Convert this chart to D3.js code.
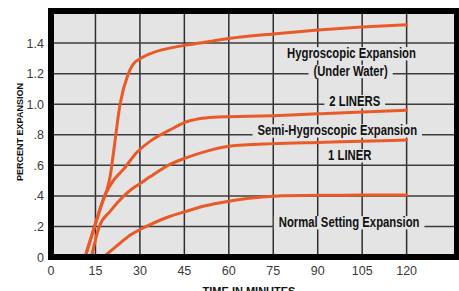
<!DOCTYPE html>
<html>
<head>
    <style>
        body { margin: 0; background: #fff; }
        .tick-label {
            font: 12.5px "Liberation Sans", Arial, sans-serif;
            fill: #3a3a3a;
        }
        .note {
            font-family: "Liberation Sans", Arial, sans-serif;
            font-weight: bold;
            font-size: 13.8px;
            fill: #111;
            text-anchor: middle;
        }
        .axis-title {
            font: bold 9px "Liberation Sans", Arial, sans-serif;
            fill: #111;
            text-anchor: middle;
        }
    </style>
    <script src="https://d3js.org/d3.v7.min.js"></script>
</head>
<body>
    <svg width="459" height="291"></svg>
    <script>
        // values (minutes, percent expansion)
        var xTicks = [0, 15, 30, 45, 60, 75, 90, 105, 120];
        var yTicks = [0, 0.2, 0.4, 0.6, 0.8, 1.0, 1.2, 1.4];
        var yTickLabels = ["0", ".2", ".4", ".6", ".8", "1.0", "1.2", "1.4"];

        var hygroTime = [11.5, 14.7, 18.1, 18.9, 20.3, 21.2, 23.3, 26.1, 28.3, 29.4, 33.4, 45, 50.2, 60, 75, 90, 105, 120];
        var hygroPct  = [0, 0.2, 0.4, 0.44, 0.57, 0.70, 1.0, 1.2, 1.275, 1.29, 1.33, 1.385, 1.40, 1.43, 1.46, 1.485, 1.505, 1.52];

        var twoLinerTime = [11.5, 14.7, 18.1, 21, 24.5, 29, 34, 40, 45, 50, 55, 60, 75, 90, 105, 120];
        var twoLinerPct  = [0, 0.2, 0.4, 0.5, 0.575, 0.685, 0.765, 0.83, 0.88, 0.905, 0.915, 0.918, 0.925, 0.937, 0.949, 0.96];

        var oneLinerTime = [13.6, 16.3, 20, 24.6, 27.3, 30, 33.4, 40, 45, 52, 60, 75, 90, 105, 120];
        var oneLinerPct  = [0, 0.2, 0.3, 0.4, 0.445, 0.48, 0.525, 0.605, 0.645, 0.69, 0.725, 0.742, 0.75, 0.757, 0.765];

        var normalTime = [17.7, 22, 27.3, 32.2, 40, 45, 52, 60, 67, 75, 90, 105, 120];
        var normalPct  = [0, 0.07, 0.15, 0.2, 0.265, 0.295, 0.335, 0.365, 0.385, 0.398, 0.404, 0.405, 0.405];

        var noteText = ["Hygroscopic Expansion", "(Under Water)", "2 LINERS", "Semi-Hygroscopic Expansion", "1 LINER", "Normal Setting Expansion"];
        var noteTime = [101.4, 101.1, 102.5, 96.6, 100.8, 100.6];
        var notePct  = [1.334, 1.218, 1.02, 0.829, 0.666, 0.228];

        var svg = d3.select("svg");

        var x = d3.scaleLinear().domain([0, 137]).range([51, 457]);
        var y = d3.scaleLinear().domain([0, 1.61]).range([257, 11]);

        var orange = "#ea5a28";

        // plot background
        svg.append("rect")
           .attr("x", x(0)).attr("y", y(1.61))
           .attr("width", x(137) - x(0)).attr("height", y(0) - y(1.61))
           .attr("fill", "#e4e4e4");

        // grid
        var grid = svg.append("g").attr("stroke", "#2e2e2e").attr("stroke-width", 1.5);
        grid.selectAll(".v").data(xTicks.slice(1)).enter().append("line")
            .attr("x1", function(d) { return x(d); }).attr("x2", function(d) { return x(d); })
            .attr("y1", y(0)).attr("y2", y(1.61));
        grid.selectAll(".h").data(yTicks.slice(1)).enter().append("line")
            .attr("stroke", "#3c3c3c")
            .attr("x1", x(0)).attr("x2", x(137))
            .attr("y1", function(d) { return y(d); }).attr("y2", function(d) { return y(d); });

        // curves
        var line = d3.line()
                     .x(function(d) { return x(d[0]); })
                     .y(function(d) { return y(d[1]); })
                     .curve(d3.curveMonotoneX);

        var series = [
            d3.zip(hygroTime, hygroPct),
            d3.zip(twoLinerTime, twoLinerPct),
            d3.zip(oneLinerTime, oneLinerPct),
            d3.zip(normalTime, normalPct)
        ];

        svg.append("g").selectAll("path").data(series).enter().append("path")
           .attr("d", line)
           .attr("fill", "none")
           .attr("stroke", orange)
           .attr("stroke-width", 3)
           .attr("stroke-linecap", "round");

        // notes with gray knock-out boxes, squeezed to look condensed
        var notes = svg.append("g");
        noteText.forEach(function(t, i) {
            var cx = x(noteTime[i]), cy = y(notePct[i]);
            var g = notes.append("g")
                         .attr("transform", "translate(" + cx + "," + cy + ") scale(0.82,1)");
            var box = g.append("rect").attr("fill", "#e4e4e4");
            var txt = g.append("text")
                       .attr("class", "note")
                       .attr("x", 0)
                       .attr("y", 0)
                       .attr("dy", "0.36em")
                       .text(t);
            var b = txt.node().getBBox();
            box.attr("x", b.x - 6).attr("y", b.y + 1)
               .attr("width", b.width + 12).attr("height", b.height - 2);
        });

        // frame
        svg.append("rect")
           .attr("x", x(0)).attr("y", y(1.61))
           .attr("width", x(137) - x(0)).attr("height", y(0) - y(1.61))
           .attr("fill", "none")
           .attr("stroke", "#000")
           .attr("stroke-width", 6);

        // tick labels
        svg.append("g").selectAll("text").data(xTicks).enter().append("text")
           .attr("class", "tick-label")
           .attr("x", function(d) { return x(d); })
           .attr("y", 275)
           .attr("text-anchor", "middle")
           .text(function(d) { return d; });

        svg.append("g").selectAll("text").data(yTicks).enter().append("text")
           .attr("class", "tick-label")
           .attr("x", 44)
           .attr("y", function(d) { return y(d); })
           .attr("dy", "0.36em")
           .attr("text-anchor", "end")
           .text(function(d, i) { return yTickLabels[i]; });

        // axis titles
        svg.append("text")
           .attr("class", "axis-title")
           .attr("transform", "translate(23,132) rotate(-90)")
           .text("PERCENT EXPANSION");

        svg.append("text")
           .attr("class", "axis-title")
           .style("font-size", "11px")
           .attr("x", 249).attr("y", 295)
           .text("TIME IN MINUTES");
    </script>
</body>
</html>
